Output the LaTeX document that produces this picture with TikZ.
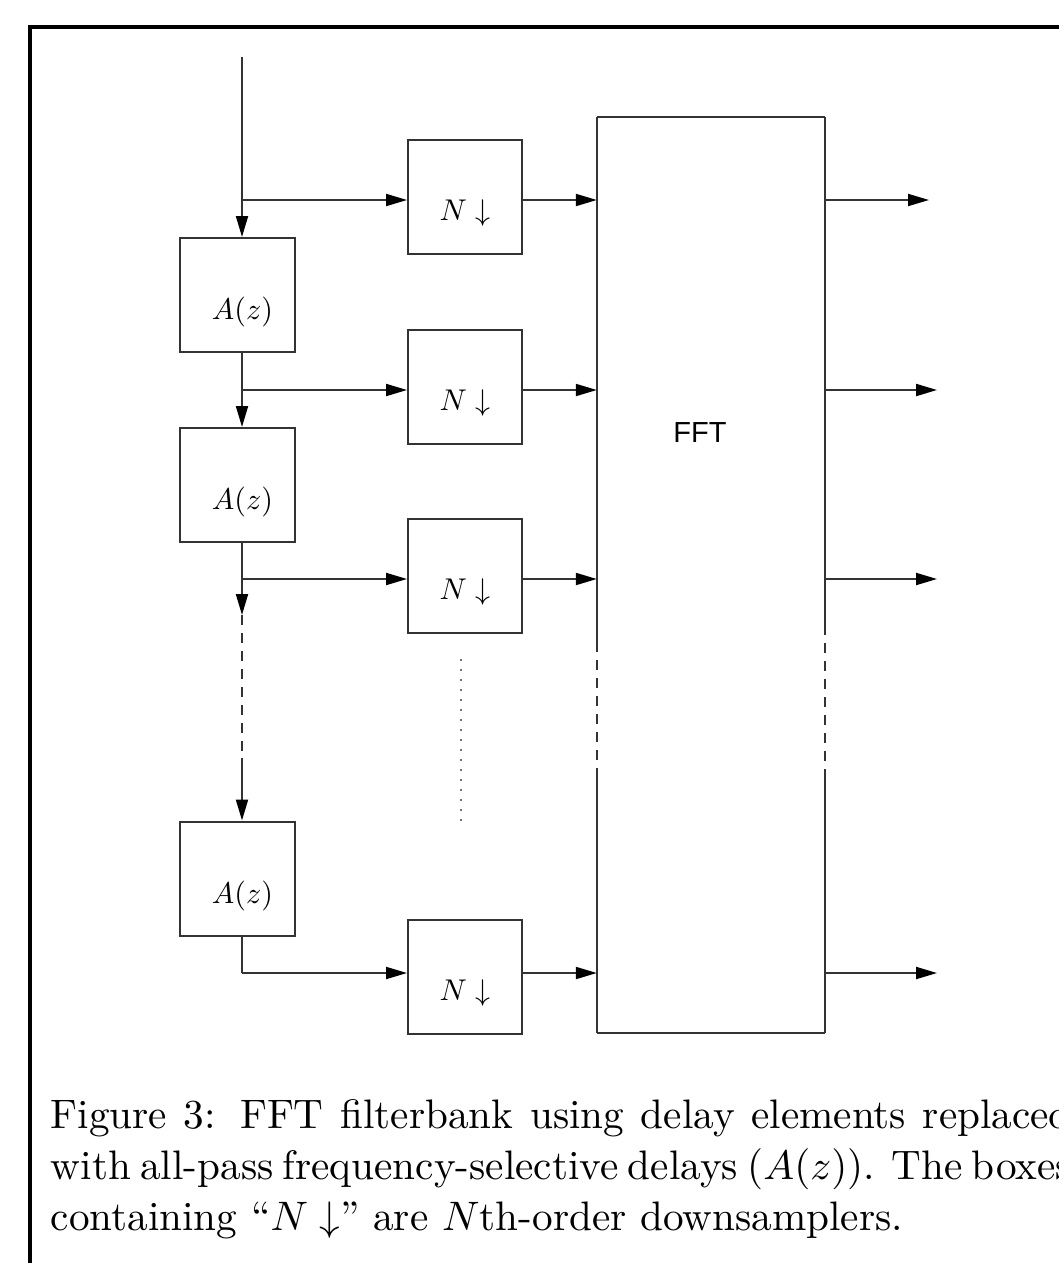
\documentclass[tikz,border=0pt]{standalone}
\usepackage{fontspec}
\newfontfamily\fftfont{Liberation Sans}
\usetikzlibrary{arrows.meta,calc}
\tikzset{
  ln/.style={line width=2pt, draw=black!80},
  arr/.style={ln, -{Triangle[length=21pt,width=12pt,color=black]}},
  abox/.style={ln, rectangle, minimum width=115pt, minimum height=114pt, inner sep=0pt},
  nbox/.style={ln, rectangle, minimum width=114pt, minimum height=114pt, inner sep=0pt},
  lbl/.style={scale=3, inner sep=0pt},
  captxt/.style={anchor=base west, scale=4.12, inner sep=0pt},
  dashln/.style={ln, dash pattern=on 10pt off 8pt},
}
\begin{document}
\begin{tikzpicture}[x=1pt,y=-1pt]
\useasboundingbox (0,0) rectangle (1059,1263);
\clip (0,0) rectangle (1059,1263);
\fill[white] (0,0) rectangle (1059,1263);
% frame
\draw[line width=4pt, line join=miter] (30,1300) -- (30,27) -- (1100,27);

% boxes
\node[abox] (a1) at (237.5,295) {};
\node[abox] (a2) at (237.5,485) {};
\node[abox] (a3) at (237.5,878.5) {};
\node[nbox] (n1) at (465,197) {};
\node[nbox] (n2) at (465,386.5) {};
\node[nbox] (n3) at (465,575.5) {};
\node[nbox] (n4) at (465,976.5) {};
\node[minimum width=228pt, minimum height=916pt, inner sep=0pt] (fft) at (711,575) {};

% labels
\node[lbl] (a1t) at ($(a1.center)+(5,17)$) {$A(z)$};
\node[lbl] (a2t) at ($(a2.center)+(5,17)$) {$A(z)$};
\node[lbl] (a3t) at ($(a3.center)+(5,17)$) {$A(z)$};
\node[lbl] (n1t) at ($(n1.center)+(0,16)$) {$N\downarrow$};
\node[lbl] (n2t) at ($(n2.center)+(0,16)$) {$N\downarrow$};
\node[lbl] (n3t) at ($(n3.center)+(0,16)$) {$N\downarrow$};
\node[lbl] (n4t) at ($(n4.center)+(0,16)$) {$N\downarrow$};
\node[scale=2.9, inner sep=0pt] (fftt) at (700,433) {\fftfont FFT};

% FFT box edges
\draw[ln] (fft.north west) -- (fft.north east);
\draw[ln] (fft.south west) -- (fft.south east);
\draw[ln] (fft.north west) -- (fft.west |- 0,642);
\draw[dashln] (fft.west |- 0,642) -- (fft.west |- 0,768);
\draw[ln] (fft.west |- 0,768) -- (fft.south west);
\draw[ln] (fft.north east) -- (fft.east |- 0,625);
\draw[dashln] (fft.east |- 0,625) -- (fft.east |- 0,770);
\draw[ln] (fft.east |- 0,770) -- (fft.south east);

% coordinates
\coordinate (in) at (242,57);
\coordinate (b1) at (242,200);
\coordinate (b2) at (242,390);
\coordinate (b3) at (242,579);
\coordinate (b4) at (242,973);
\coordinate (d1) at (242,615);
\coordinate (d2) at (242,758);
\coordinate (o1) at (929,200);
\coordinate (o2) at (937,390);
\coordinate (o3) at (937,579);
\coordinate (o4) at (937,973);
\coordinate (v1) at (461,659);
\coordinate (v2) at (461,821);

% chain
\draw[arr] (in) -- (in |- a1.north);
\draw[arr] (a1.south -| in) -- (a2.north -| in);
\draw[arr] (a2.south -| in) -- (d1);
\draw[dashln] (d1) -- (d2);
\draw[arr] (d2) -- (a3.north -| in);
\draw[ln] (a3.south -| in) -- (b4);

% branches to downsamplers
\draw[arr] (b1) -- (b1 -| n1.west);
\draw[arr] (b2) -- (b2 -| n2.west);
\draw[arr] (b3) -- (b3 -| n3.west);
\draw[arr] (b4) -- (b4 -| n4.west);

% downsamplers to FFT
\draw[arr] (b1 -| n1.east) -- (b1 -| fft.west);
\draw[arr] (b2 -| n2.east) -- (b2 -| fft.west);
\draw[arr] (b3 -| n3.east) -- (b3 -| fft.west);
\draw[arr] (b4 -| n4.east) -- (b4 -| fft.west);

% outputs
\draw[arr] (b1 -| fft.east) -- (o1);
\draw[arr] (b2 -| fft.east) -- (o2);
\draw[arr] (b3 -| fft.east) -- (o3);
\draw[arr] (b4 -| fft.east) -- (o4);

% dotted
\draw[line width=2pt, draw=black!55, dash pattern=on 2pt off 8pt] (v1) -- (v2);

% caption
\node[captxt] (c1) at (50,1128) {\makebox[247.8pt][s]{Figure 3: FFT filterbank using delay elements replaced}};
\node[captxt] (c2) at (50,1179) {\makebox[247.8pt][s]{with all-pass frequency-selective delays ($A(z)$). The boxes}};
\node[captxt] (c3) at (50,1230) {containing ``$N\downarrow$'' are $N$th-order downsamplers.};
\end{tikzpicture}
\end{document}
